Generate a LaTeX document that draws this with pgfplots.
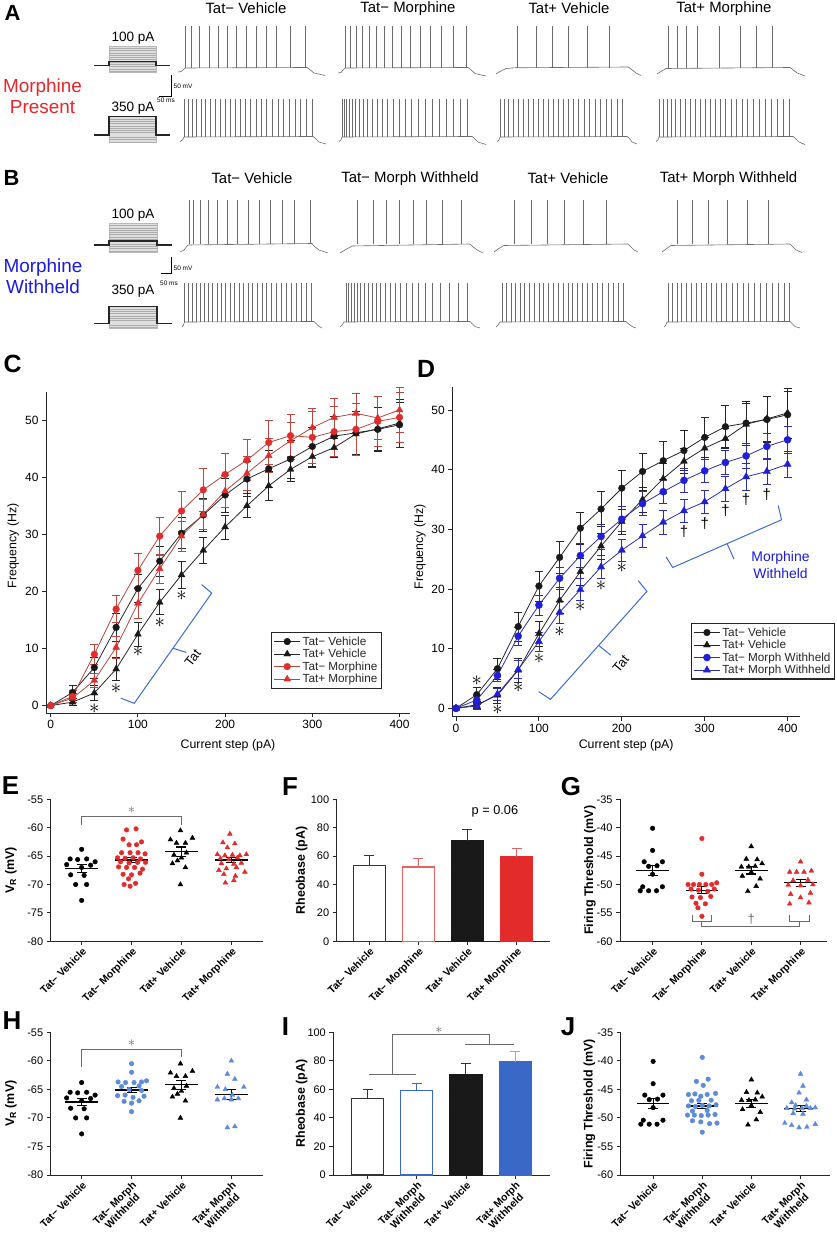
\documentclass[border=0pt]{standalone}
\usepackage{pgfplots}
\pgfplotsset{compat=1.18}
\usepackage{pgfplotstable}
\usepackage{fontspec}
\setmainfont{Liberation Sans}

\definecolor{tr}{HTML}{6A6A6A}
\definecolor{myred}{HTML}{E32B2B}
\definecolor{redln}{HTML}{B8473F}
\definecolor{lred}{HTML}{E06262}
\definecolor{myblue}{HTML}{1E1EDC}
\definecolor{blueln}{HTML}{2E2EA8}
\definecolor{brk}{HTML}{3C6AD8}
\definecolor{ltblue}{HTML}{5B8BDB}
\definecolor{barblue}{HTML}{3A68C6}
\definecolor{pblue}{HTML}{8EA9E0}
\definecolor{txtred}{HTML}{E5262B}
\definecolor{txtblue}{HTML}{1A1AE0}
\definecolor{sig}{HTML}{6A6A6A}

\newcommand{\fs}[1]{\fontsize{#1}{#1}\selectfont}
\newcommand{\legtxt}[1]{{\fontsize{11.8}{11.8}\selectfont #1}}

% frequency vs current step, mean and SEM
\pgfplotstableread{
x   tmv  tmve tpv  tpve tmm  tmme tpm  tpme tmw  tmwe tpw  tpwe
0   0    0    0    0    0    0    0    0    0    0    0    0
25  2.3  1.3  0.6  0.6  1.6  1.0  1.3  0.8  1.4  0.8  0.4  0.5
50  6.65 1.8  2.2  1.3  9.0  1.8  4.4  1.2  5.5  1.0  2.4  1.0
75  13.7 2.4  6.4  2.0  16.9 2.4  10.2 2.0  12.1 1.5  6.5  1.5
100 20.5 2.5  12.5 2.1  23.7 2.9  17.9 2.6  17.3 1.7  11.2 1.6
125 25.3 2.6  18.1 2.2  29.7 3.3  24.0 2.5  21.8 1.9  16.1 1.8
150 30.2 2.7  22.9 2.3  34.1 3.5  29.7 2.6  25.6 2.0  19.9 1.8
175 33.4 2.9  27.2 2.2  37.8 3.7  33.5 2.7  28.8 2.1  23.7 1.9
200 36.9 3.0  31.3 2.1  40.5 3.7  37.6 2.8  31.7 2.1  26.5 1.9
225 39.7 3.1  35.0 2.1  43.0 3.6  40.7 2.9  34.3 2.0  28.9 2.0
250 41.5 3.2  38.5 2.5  46.1 3.8  43.8 3.0  36.3 2.0  31.2 2.0
275 43.2 3.3  41.4 2.1  47.3 3.7  46.4 3.2  38.2 2.0  33.1 2.0
300 45.4 3.4  43.6 1.8  47.0 4.6  48.7 3.3  39.8 2.0  34.6 2.0
325 47.2 3.5  45.2 1.7  48.0 4.4  50.5 3.4  41.2 2.0  36.8 2.1
350 47.8 3.7  47.6 3.5  48.4 4.6  51.2 3.5  42.3 2.1  38.8 2.2
375 48.4 3.8  48.5 3.8  49.8 4.4  50.4 3.7  43.9 2.1  39.7 2.2
400 49.2 4.0  49.5 4.2  50.5 4.3  51.8 3.9  45.0 2.2  40.9 2.2
}\freq

\pgfplotsset{
  prism/.style={scale only axis, axis x line*=bottom, axis y line*=left,
    tick align=outside, major tick length=4bp, enlargelimits=false, clip=false,
    axis line style={line width=0.9bp, black!85}, tick style={line width=0.9bp, black!85},
    /pgf/number format/assume math mode=true,
    tick label style={font=\fs{11}}, label style={font=\fs{12.4}}},
  cat/.style={prism, xtick={0,1,2,3},
    x tick label style={rotate=45, anchor=north east, align=center, font=\bfseries\fontsize{10.5}{11}\selectfont, inner sep=1bp},
    label style={font=\bfseries\fs{12.5}}},
  ser/.style n args={4}{draw=#1, line width=0.8bp, mark=#3, mark size=#4,
    mark options={solid, draw=#2, fill=#2, line width=0.3bp},
    error bars/.cd, y dir=both, y explicit,
    error bar style={line width=0.7bp, draw=#1},
    error mark options={rotate=90, line width=0.7bp, draw=#1, mark size=4bp}},
  spk/.style={draw=none, mark=none, forget plot, error bars/.cd, y dir=minus, y fixed=#1,
    error mark=none, error bar style={solid, line width=0.5bp, draw=tr}},
  base/.style={draw=tr, line width=0.6bp, mark=none, forget plot},
  boxl/.style={draw=none, mark=none, forget plot, error bars/.cd, x dir=plus, x fixed=#1,
    error mark=none, error bar style={solid, line width=0.5bp, draw=gray!65}},
  stepl/.style={draw=black!85, line width=1.3bp, mark=none, forget plot},
  boxf/.style={fill=gray!25, draw=gray!55, line width=0.5bp, mark=none, forget plot},
  meanl/.style={draw=black, line width=1.2bp, mark=none, unbounded coords=jump},
  semb/.style={draw=none, mark=none, error bars/.cd, y dir=both, y explicit,
    error bar style={solid, line width=1.1bp, draw=black}, error mark options={rotate=90, line width=1.1bp, draw=black, mark size=5bp}},
  barst/.style n args={3}{ybar, bar width=0.65, bar shift=0pt, fill=#1, draw=#2, line width=1.2bp,
    error bars/.cd, y dir=plus, y explicit, error bar style={line width=1bp, draw=#3},
    error mark options={rotate=90, line width=1bp, draw=#3, mark size=5bp}},
  legimg/.style={legend cell align=left,
    legend image code/.code={\draw[mark repeat=2,mark phase=2] plot coordinates {(0bp,0bp) (13bp,0bp) (26bp,0bp)};}},
}

\begin{document}
\begin{tikzpicture}
\useasboundingbox (0,0) rectangle (837bp,1238bp);

% ================= canvas: panels A and B, panel letters =================
\begin{axis}[at={(0,0)}, anchor=south west, scale only axis, width=837bp, height=1238bp,
  xmin=0, xmax=837, ymin=0, ymax=1238, y dir=reverse, hide axis, clip=false]

% stimulus icons
\addplot[boxf] coordinates {(109,46)(156,46)(156,72.7)(109,72.7)(109,46)};
\addplot[boxl=47] coordinates {(109,48.2)(109,50.5)(109,52.8)(109,55.1)(109,57.4)(109,59.7)(109,62)(109,64.3)(109,66.6)(109,68.9)(109,71.2)};
\addplot[stepl] coordinates {(94,65.7)(109,65.7)(109,61.3)(156,61.3)(156,65.7)(170,65.7)};
\addplot[boxf] coordinates {(109,116.7)(156,116.7)(156,142.7)(109,142.7)(109,116.7)};
\addplot[boxl=47] coordinates {(109,118.9)(109,121.2)(109,123.5)(109,125.8)(109,128.1)(109,130.4)(109,132.7)(109,137.3)(109,139.6)(109,141.9)};
\addplot[stepl] coordinates {(94,135)(109,135)(109,116.7)(156,116.7)(156,135)(170,135)};
\addplot[boxf] coordinates {(109,223.3)(157,223.3)(157,252.3)(109,252.3)(109,223.3)};
\addplot[boxl=48] coordinates {(109,225.5)(109,227.8)(109,230.1)(109,232.4)(109,234.7)(109,237)(109,239.3)(109,243.9)(109,246.2)(109,248.5)(109,250.8)};
\addplot[stepl] coordinates {(94,245)(109,245)(109,241)(157,241)(157,245)(172,245)};
\addplot[boxf] coordinates {(109,306.7)(157,306.7)(157,328.3)(109,328.3)(109,306.7)};
\addplot[boxl=48] coordinates {(109,308.9)(109,311.2)(109,313.5)(109,315.8)(109,318.1)(109,320.4)(109,325)(109,327.3)};
\addplot[stepl] coordinates {(94,323.3)(109,323.3)(109,306.7)(157,306.7)(157,323.3)(172,323.3)};

% A, 100 pA
\addplot[base] coordinates {(178,72)(181,71.6)(183.5,69.5)(185,68)(307,67.5)(309,69)(314,73)(325,75.5)};
\addplot[spk=42] coordinates {(185.7,68)(191.7,68)(199.3,68)(209,68)(218.3,68)(227.7,68)(236,68)(246.7,68)(256.7,68)(266.7,68)(276.7,68)(290,68)(305.7,68)};
\addplot[base] coordinates {(338,73)(341,72.5)(343.5,69.5)(345,68)(468,67.5)(470,69)(475,73.5)(486,76)};
\addplot[spk=42] coordinates {(345,68)(350,68)(356,68)(362,68)(369,68)(376,68)(384,68)(392,68)(401,68)(410,68)(420,68)(430,68)(441,68)(453,68)(466,68)};
\addplot[base] coordinates {(496,74)(500,71.5)(506,68.5)(515,67.8)(628,67)(631,69)(636,73)(641,75.5)};
\addplot[spk=42] coordinates {(517.7,68)(536.5,68)(552.6,68)(568.7,68)(587.4,68)(608.9,68)};
\addplot[base] coordinates {(657,74)(661,71.5)(666,68.5)(790,67.5)(792,69)(797,73)(805,76)};
\addplot[spk=42] coordinates {(668,68)(677,68)(686.7,68)(697.4,68)(718.9,68)(740.3,68)(756.4,68)(772.5,68)};

% A, 350 pA
\addplot[base] coordinates {(180,141.5)(182.5,140)(184,137)(313,136.5)(315,138)(319,142)(326,144)};
\addplot[spk=38] coordinates {(184.3,137)(188.3,137)(192.7,137)(196.7,137)(201,137)(205.7,137)(210.3,137)(215,137)(220,137)(225,137)(230,137)(235,137)(240,137)(245.3,137)(250.7,137)(256,137)(261.3,137)(266.7,137)(272.3,137)(278,137)(283.7,137)(289.3,137)(295,137)(300.7,137)(306.3,137)(312,137)};
\addplot[base] coordinates {(339,141.5)(341,140)(342,137)(472,136.5)(474,138)(478,142)(486,144.5)};
\addplot[spk=38] coordinates {(342,137)(344,137)(346.5,137)(349,137)(352,137)(355,137)(359,137)(363,137)(367,137)(372,137)(377,137)(382,137)(387,137)(393,137)(399,137)(405,137)(411,137)(418,137)(425,137)(432,137)(439,137)(446,137)(453,137)(460,137)(467,137)};
\addplot[base] coordinates {(497,141.5)(499,140)(500,137)(627,136.5)(629,138)(632,142)(637,144)};
\addplot[spk=38] coordinates {(500,137)(504,137)(508.5,137)(513,137)(518,137)(523,137)(528,137)(533,137)(538,137)(543,137)(548,137)(553,137)(558,137)(563,137)(568,137)(573,137)(578.5,137)(584,137)(589.5,137)(595,137)(600.5,137)(606,137)(611.5,137)(617,137)(622.5,137)};
\addplot[base] coordinates {(656,141.5)(658,140)(659,137)(793,136.5)(795,138)(799,142)(805,144.5)};
\addplot[spk=38] coordinates {(659,137)(663,137)(667,137)(671,137)(675,137)(680,137)(685,137)(690,137)(695,137)(700,137)(705,137)(710,137)(715,137)(720,137)(725.5,137)(731,137)(736.5,137)(742,137)(747.5,137)(753,137)(759,137)(765,137)(771,137)(777,137)(783,137)(789,137)};

% B, 100 pA
\addplot[base] coordinates {(180,252)(184,250)(188,245)(312,243.5)(314,246)(319,250)(328,253)};
\addplot[spk=44] coordinates {(189,244)(193,244)(200,244)(208.3,244)(217.7,244)(227.3,244)(237.3,244)(248.3,244)(259.3,244)(270.3,244)(282,244)(294.7,244)(310.7,244)};
\addplot[base] coordinates {(340,253)(345,250)(352,246)(470,244)(472,246)(477,250)(483,253)};
\addplot[spk=44] coordinates {(356.8,244)(372.9,244)(386.3,244)(399.7,244)(413.1,244)(426.5,244)(442.6,244)(461.4,244)};
\addplot[base] coordinates {(494,252)(498,249)(504,245.5)(628,244)(630,246)(634,250)(638,252)};
\addplot[spk=44] coordinates {(514,244)(531,244)(547,244)(564.4,244)(583.7,244)(606.2,244)};
\addplot[base] coordinates {(662,252)(666,249)(671,245.5)(790,244)(792,246)(796,250)(802,252.5)};
\addplot[spk=44] coordinates {(677,244)(692,244)(708,244)(727,244)(747.3,244)(768.2,244)};

% B, 350 pA
\addplot[base] coordinates {(182,327)(183.5,325)(184.5,322)(314,321.5)(316,323.5)(319,326.5)(322,328)};
\addplot[spk=39] coordinates {(184.5,322)(188.5,322)(192.5,322)(196.5,322)(200.5,322)(204.5,322)(208.5,322)(212.7,322)(217,322)(221.3,322)(225.7,322)(230,322)(234.5,322)(239,322)(243.5,322)(248,322)(252.7,322)(257.3,322)(262,322)(266.7,322)(271.5,322)(276.3,322)(281,322)(286,322)(291,322)(296,322)(301,322)(306,322)(311,322)};
\addplot[base] coordinates {(340,327)(342,325)(344,322)(470,321.5)(472,323.5)(475,326.5)(480,328)};
\addplot[spk=39] coordinates {(346,322)(348.5,322)(351,322)(354,322)(357,322)(360.5,322)(364,322)(368,322)(372,322)(376,322)(380.5,322)(385,322)(390,322)(395,322)(400.5,322)(406,322)(412,322)(418,322)(425,322)(432,322)(440,322)(449,322)(458,322)(467,322)};
\addplot[base] coordinates {(496,327)(498,325)(500,322)(626,321.5)(628,323.5)(632,326.5)(636,328)};
\addplot[spk=39] coordinates {(502,322)(506.5,322)(511,322)(515.5,322)(520,322)(524.7,322)(529.4,322)(534,322)(538.8,322)(543.6,322)(548.4,322)(553.2,322)(558,322)(562.9,322)(567.8,322)(572.7,322)(577.6,322)(582.6,322)(587.6,322)(592.6,322)(597.6,322)(602.7,322)(607.8,322)(612.9,322)(618,322)(623.2,322)};
\addplot[base] coordinates {(664,327)(666,325)(667,322)(790,321.5)(792,323.5)(795,326.5)(800,328)};
\addplot[spk=39] coordinates {(668,322)(672.5,322)(677,322)(681.7,322)(686.4,322)(691.2,322)(696,322)(701,322)(706,322)(711,322)(716.2,322)(721.4,322)(726.7,322)(732,322)(737.5,322)(743,322)(748.6,322)(754.3,322)(760,322)(766,322)(772,322)(778,322)(784,322)(789,322)};

% scale bars
\draw[line width=1.2bp, black] (axis cs:171.7,75) -- (axis cs:171.7,96.7) -- (axis cs:159.3,96.7);
\node[anchor=west, font=\fs{6.5}, inner sep=0] at (axis cs:173.5,86) {50 mV};
\node[anchor=west, font=\fs{6.5}, inner sep=0] at (axis cs:157,100.5) {50 ms};
\draw[line width=1.2bp, black] (axis cs:171.7,256.7) -- (axis cs:171.7,273.3) -- (axis cs:161,273.3);
\node[anchor=west, font=\fs{6.5}, inner sep=0] at (axis cs:173.5,268.5) {50 mV};
\node[anchor=west, font=\fs{6.5}, inner sep=0] at (axis cs:160,283.3) {50 ms};

% texts
\node[font=\fs{13.6}] at (axis cs:133,38.5) {100 pA};
\node[font=\fs{13.6}] at (axis cs:133,108.3) {350 pA};
\node[font=\fs{13.6}] at (axis cs:133,215) {100 pA};
\node[font=\fs{13.6}] at (axis cs:133,291) {350 pA};
\node[font=\fontsize{19}{21}\selectfont, text=txtred, align=center] at (axis cs:42.5,96) {Morphine\\Present};
\node[font=\fontsize{19}{21}\selectfont, text=txtblue, align=center] at (axis cs:43,276) {Morphine\\Withheld};
\node[font=\fs{15}] at (axis cs:246,8.5) {Tat− Vehicle};
\node[font=\fs{15}] at (axis cs:408,8.5) {Tat− Morphine};
\node[font=\fs{15}] at (axis cs:569,8.5) {Tat+ Vehicle};
\node[font=\fs{15}] at (axis cs:724,8.5) {Tat+ Morphine};
\node[font=\fs{15}] at (axis cs:252,178.3) {Tat− Vehicle};
\node[font=\fs{15}] at (axis cs:410,178.3) {Tat− Morph Withheld};
\node[font=\fs{15}] at (axis cs:568,178.3) {Tat+ Vehicle};
\node[font=\fs{15}] at (axis cs:728.5,178.3) {Tat+ Morph Withheld};

% panel letters
\node[font=\bfseries\fs{22}] at (axis cs:12.5,12.5) {A};
\node[font=\bfseries\fs{22}] at (axis cs:11.5,177.5) {B};
\node[font=\bfseries\fs{25}] at (axis cs:12.5,364) {C};
\node[font=\bfseries\fs{25}] at (axis cs:426,368.5) {D};
\node[font=\bfseries\fs{26}] at (axis cs:10.5,786) {E};
\node[font=\bfseries\fs{26}] at (axis cs:290,786.5) {F};
\node[font=\bfseries\fs{26}] at (axis cs:571,787) {G};
\node[font=\bfseries\fs{26}] at (axis cs:12,1021) {H};
\node[font=\bfseries\fs{26}] at (axis cs:285.5,1027) {I};
\node[font=\bfseries\fs{26}] at (axis cs:568,1027) {J};
\end{axis}

% ================= C =================
\begin{axis}[prism, legimg, at={(46bp,525bp)}, width=364bp, height=321.3bp,
  xmin=-5.4, xmax=412, ymin=-1.3, ymax=55, xtick={0,100,...,400}, ytick={0,10,...,50},
  tick label style={font=\fs{12}},
  xlabel={Current step (pA)}, ylabel={Frequency (Hz)},
  xlabel style={at={(axis description cs:0.5,-0.0996)}, anchor=center},
  ylabel style={at={(axis description cs:-0.09,0.52)}, anchor=center},
  legend style={at={(0.923,0.252)}, anchor=north east, draw=black!85, line width=1.1bp,
    inner xsep=2bp, inner ysep=2bp, row sep=-1.5bp, text=black!85}]
\addplot[ser={black!85}{black!90}{*}{3.4bp}] table[x=x, y=tmv, y error=tmve] {\freq};
\addlegendentry{\legtxt{Tat− Vehicle}}
\addplot[ser={black!85}{black!90}{triangle*}{4bp}] table[x=x, y=tpv, y error=tpve] {\freq};
\addlegendentry{\legtxt{Tat+ Vehicle}}
\addplot[ser={redln}{myred}{*}{3.4bp}] table[x=x, y=tmm, y error=tmme] {\freq};
\addlegendentry{\legtxt{Tat− Morphine}}
\addplot[ser={redln}{myred}{triangle*}{4bp}] table[x=x, y=tpm, y error=tpme] {\freq};
\addlegendentry{\legtxt{Tat+ Morphine}}
\draw[brk, line width=1bp] (axis cs:80.3,1.3) -- (axis cs:95.8,0.4) -- (axis cs:184.6,19.7) -- (axis cs:173,21.2);
\draw[brk, line width=1bp] (axis cs:140.2,10.05) -- (axis cs:155.6,9.3);
\node[rotate=52, font=\fs{13}] at (axis cs:163,8.3) {Tat};
\node[font=\fs{20}, inner sep=0] at (axis cs:50,-0.5) {$\ast$};
\node[font=\fs{20}, inner sep=0] at (axis cs:75,3.0) {$\ast$};
\node[font=\fs{20}, inner sep=0] at (axis cs:100,9.4) {$\ast$};
\node[font=\fs{20}, inner sep=0] at (axis cs:125,14.5) {$\ast$};
\node[font=\fs{20}, inner sep=0] at (axis cs:150,19.3) {$\ast$};
\end{axis}

% ================= D =================
\begin{axis}[prism, legimg, at={(452.3bp,521.3bp)}, width=347.7bp, height=330bp,
  xmin=-4.5, xmax=415, ymin=-1.4, ymax=53.9, xtick={0,100,...,400}, ytick={0,10,...,50},
  tick label style={font=\fs{12}},
  xlabel={Current step (pA)}, ylabel={Frequency (Hz)},
  xlabel style={at={(axis description cs:0.5,-0.0858)}, anchor=center},
  ylabel style={at={(axis description cs:-0.093,0.515)}, anchor=center},
  legend style={at={(1.1007,0.284)}, anchor=north east, draw=black!85, line width=1.1bp,
    inner xsep=2bp, inner ysep=2bp, row sep=-1.5bp, text=black!85}]
\addplot[ser={black!85}{black!90}{*}{3.4bp}] table[x=x, y=tmv, y error=tmve] {\freq};
\addlegendentry{\legtxt{Tat− Vehicle}}
\addplot[ser={black!85}{black!90}{triangle*}{4bp}] table[x=x, y=tpv, y error=tpve] {\freq};
\addlegendentry{\legtxt{Tat+ Vehicle}}
\addplot[ser={blueln}{myblue}{*}{3.6bp}] table[x=x, y=tmw, y error=tmwe] {\freq};
\addlegendentry{\legtxt{Tat− Morph Withheld}}
\addplot[ser={blueln}{myblue}{triangle*}{4.2bp}] table[x=x, y=tpw, y error=tpwe] {\freq};
\addlegendentry{\legtxt{Tat+ Morph Withheld}}
\draw[brk, line width=1bp] (axis cs:99.8,2.8) -- (axis cs:113.9,1.5) -- (axis cs:230.3,19.6) -- (axis cs:219.8,21.4);
\draw[brk, line width=1bp] (axis cs:172.1,10.55) -- (axis cs:186.7,8.9);
\node[rotate=50, font=\fs{13}] at (axis cs:198.8,7.5) {Tat};
\draw[brk, line width=1bp] (axis cs:253.3,25.4) -- (axis cs:261.4,23.6) -- (axis cs:392.7,31.6) -- (axis cs:388.7,34.0);
\draw[brk, line width=1bp] (axis cs:327.05,27.6) -- (axis cs:335.4,25.0);
\node[align=center, text=txtblue, font=\fontsize{14}{17}\selectfont] at (axis cs:391.5,24.05) {Morphine\\Withheld};
\node[font=\fs{20}, inner sep=0] at (axis cs:25,4.7) {$\ast$};
\node[font=\fs{20}, inner sep=0] at (axis cs:50,-0.3) {$\ast$};
\node[font=\fs{20}, inner sep=0] at (axis cs:75,3.4) {$\ast$};
\node[font=\fs{20}, inner sep=0] at (axis cs:100,8.4) {$\ast$};
\node[font=\fs{20}, inner sep=0] at (axis cs:125,12.8) {$\ast$};
\node[font=\fs{20}, inner sep=0] at (axis cs:150,17.0) {$\ast$};
\node[font=\fs{20}, inner sep=0] at (axis cs:175,20.5) {$\ast$};
\node[font=\fs{20}, inner sep=0] at (axis cs:200,23.5) {$\ast$};
\node[font=\fs{15}, inner sep=0] at (axis cs:275,29.6) {†};
\node[font=\fs{15}, inner sep=0] at (axis cs:300,31.0) {†};
\node[font=\fs{15}, inner sep=0] at (axis cs:325,33.2) {†};
\node[font=\fs{15}, inner sep=0] at (axis cs:350,35.0) {†};
\node[font=\fs{15}, inner sep=0] at (axis cs:375,35.9) {†};
\end{axis}

% ================= E =================
\begin{axis}[cat, at={(50.7bp,296.7bp)}, width=212.6bp, height=142bp,
  xmin=-0.62, xmax=3.64, ymin=-80, ymax=-55, ytick={-80,-75,...,-55},
  xticklabels={Tat− Vehicle, Tat− Morphine, Tat+ Vehicle, Tat+ Morphine},
  ylabel={V\textsubscript{R} (mV)}, ylabel style={at={(axis description cs:-0.187,0.5)}, anchor=center}]
\addplot[only marks, mark=*, mark size=2.3bp, black] coordinates {(0.00,-63.8)(-0.23,-65.5)(-0.08,-65.6)(0.10,-65.5)(0.27,-66.0)(-0.30,-66.5)(0.18,-66.6)(0.00,-67.0)(-0.22,-68.3)(0.05,-68.4)(-0.12,-70.0)(0.10,-70.0)(0.00,-72.8)};
\addplot[only marks, mark=*, mark size=2.3bp, myred] coordinates {(0.90,-60.4)(1.09,-60.2)(0.83,-62.0)(1.20,-62.5)(0.95,-63.0)(1.10,-63.0)(0.80,-64.4)(0.97,-64.4)(1.13,-64.4)(1.27,-64.6)(0.72,-65.3)(0.87,-65.4)(1.03,-65.3)(1.18,-65.5)(0.78,-66.0)(0.95,-66.2)(1.12,-66.1)(1.28,-66.1)(0.74,-66.9)(0.90,-67.0)(1.06,-67.0)(1.22,-67.3)(0.83,-68.2)(1.00,-68.3)(1.17,-68.0)(0.94,-69.0)(0.85,-70.0)(1.08,-69.8)(0.97,-70.3)};
\addplot[only marks, mark=triangle*, mark size=2.8bp, black] coordinates {(1.98,-60.5)(1.78,-62.1)(2.22,-61.8)(1.90,-62.7)(2.08,-62.7)(2.10,-64.4)(1.85,-64.8)(2.00,-65.3)(1.82,-66.3)(2.08,-67.0)(1.98,-70.0)(1.92,-65.8)};
\addplot[only marks, mark=triangle*, mark size=2.8bp, myred] coordinates {(2.97,-61.1)(2.83,-62.6)(3.07,-62.8)(2.92,-63.5)(2.72,-64.7)(2.87,-64.9)(3.02,-64.8)(3.17,-64.9)(3.30,-64.7)(2.78,-65.4)(3.12,-65.3)(2.95,-65.6)(2.80,-66.3)(3.05,-66.4)(3.20,-66.2)(2.90,-67.2)(3.10,-67.0)(2.75,-67.5)(3.27,-67.8)(2.85,-68.2)(3.08,-68.5)(2.88,-69.7)(3.05,-69.3)};
\addplot[meanl] coordinates {(-0.33,-67.2)(0.33,-67.2)(0.5,nan)(0.67,-65.7)(1.33,-65.7)(1.5,nan)(1.67,-64.2)(2.33,-64.2)(2.5,nan)(2.67,-65.7)(3.33,-65.7)};
\addplot[semb] coordinates {(0,-67.2) +- (0,0.65) (1,-65.7) +- (0,0.5) (2,-64.2) +- (0,0.8) (3,-65.7) +- (0,0.45)};
\draw[sig, line width=1bp] (axis cs:0,-59.5) -- (axis cs:0,-58.05) -- (axis cs:2,-58.05) -- (axis cs:2,-59.5);
\node[text=sig, font=\fs{15}, inner sep=0] at (axis cs:1,-56.9) {$\ast$};
\end{axis}

% ================= F =================
\begin{axis}[cat, at={(336.7bp,296.7bp)}, width=213.3bp, height=142bp,
  xmin=-0.66, xmax=3.68, ymin=0, ymax=100, ytick={0,20,...,100},
  xticklabels={Tat− Vehicle, Tat− Morphine, Tat+ Vehicle, Tat+ Morphine},
  ylabel={Rheobase (pA)}, ylabel style={at={(axis description cs:-0.164,0.5)}, anchor=center}]
\addplot[barst={white}{black!80}{black!80}] coordinates {(0,53.5) +- (0,6.6)};
\addplot[barst={white}{lred}{lred}] coordinates {(1,52.3) +- (0,5.9)};
\addplot[barst={black!90}{black!90}{black!80}] coordinates {(2,70.7) +- (0,7.7)};
\addplot[barst={myred}{myred}{lred}] coordinates {(3,59.6) +- (0,6.1)};
\node[font=\fs{12.8}] at (axis cs:2.56,91.3) {p = 0.06};
\end{axis}

% ================= G =================
\begin{axis}[cat, at={(620bp,296.7bp)}, width=206.7bp, height=142bp,
  xmin=-0.66, xmax=3.53, ymin=-60, ymax=-35, ytick={-60,-55,...,-35},
  xticklabels={Tat− Vehicle, Tat− Morphine, Tat+ Vehicle, Tat+ Morphine},
  ylabel={Firing Threshold (mV)}, ylabel style={at={(axis description cs:-0.145,0.5)}, anchor=center}]
\addplot[only marks, mark=*, mark size=2.3bp, black] coordinates {(0,-40.1)(0,-44.0)(-0.17,-46.0)(0.20,-46.0)(-0.08,-46.8)(0.09,-46.7)(0.0,-48.2)(-0.2,-50.4)(0.2,-50.4)(-0.25,-51.1)(-0.08,-51.1)(0.08,-51.1)};
\addplot[only marks, mark=*, mark size=2.3bp, myred] coordinates {(1.00,-41.9)(1.00,-48.2)(0.72,-50.0)(0.83,-50.0)(0.95,-50.0)(1.08,-50.0)(1.20,-50.0)(1.30,-49.7)(0.78,-50.8)(0.93,-51.0)(1.12,-51.2)(1.25,-50.8)(0.80,-52.2)(0.97,-52.3)(1.18,-52.1)(0.88,-53.3)(1.07,-53.4)(0.92,-54.1)(1.00,-55.6)};
\addplot[only marks, mark=triangle*, mark size=2.8bp, black] coordinates {(2.00,-43.3)(1.90,-45.5)(2.12,-45.6)(2.22,-46.3)(1.80,-46.9)(1.95,-46.9)(2.08,-46.8)(2.00,-47.8)(1.82,-48.5)(2.18,-49.0)(2.10,-50.3)(1.93,-51.2)};
\addplot[only marks, mark=triangle*, mark size=2.8bp, myred] coordinates {(3.00,-46.0)(2.78,-47.8)(2.92,-47.8)(3.07,-47.8)(3.22,-47.6)(2.85,-49.3)(3.15,-49.2)(2.75,-50.1)(3.00,-50.2)(3.25,-50.0)(2.80,-51.7)(3.20,-51.5)(3.00,-52.3)(2.78,-53.4)(3.17,-53.2)};
\addplot[meanl] coordinates {(-0.33,-47.5)(0.33,-47.5)(0.5,nan)(0.67,-51.0)(1.33,-51.0)(1.5,nan)(1.67,-47.5)(2.33,-47.5)(2.5,nan)(2.67,-49.7)(3.33,-49.7)};
\addplot[semb] coordinates {(0,-47.5) +- (0,0.85) (1,-51.0) +- (0,0.65) (2,-47.5) +- (0,0.65) (3,-49.7) +- (0,0.6)};
\draw[sig, line width=1bp] (axis cs:0.8,-55.4) -- (axis cs:0.8,-56.5) -- (axis cs:1.2,-56.5) -- (axis cs:1.2,-55.4);
\draw[sig, line width=1bp] (axis cs:1,-56.5) -- (axis cs:1,-57.4) -- (axis cs:2.98,-57.4) -- (axis cs:2.98,-56.5);
\draw[sig, line width=1bp] (axis cs:2.78,-55.4) -- (axis cs:2.78,-56.5) -- (axis cs:3.18,-56.5) -- (axis cs:3.18,-55.4);
\node[text=sig, font=\fs{13}, inner sep=0] at (axis cs:2,-56.2) {†};
\end{axis}

% ================= H =================
\begin{axis}[cat, at={(50.7bp,63bp)}, width=212.6bp, height=142.7bp,
  xmin=-0.62, xmax=3.64, ymin=-80, ymax=-55, ytick={-80,-75,...,-55},
  xticklabels={Tat− Vehicle, {Tat− Morph\\Withheld}, Tat+ Vehicle, {Tat+ Morph\\Withheld}},
  ylabel={V\textsubscript{R} (mV)}, ylabel style={at={(axis description cs:-0.187,0.5)}, anchor=center}]
\addplot[only marks, mark=*, mark size=2.3bp, black] coordinates {(0.00,-63.8)(-0.23,-65.5)(-0.08,-65.6)(0.10,-65.5)(0.27,-66.0)(-0.30,-66.5)(0.18,-66.6)(0.00,-67.0)(-0.22,-68.3)(0.05,-68.4)(-0.12,-70.0)(0.10,-70.0)(0.00,-72.8)};
\addplot[only marks, mark=*, mark size=2.3bp, ltblue] coordinates {(1.00,-60.5)(1.00,-62.0)(0.73,-63.7)(0.88,-63.8)(1.05,-63.8)(1.20,-63.7)(1.30,-63.5)(0.80,-64.5)(1.15,-64.4)(0.95,-65.0)(1.20,-65.2)(0.72,-66.1)(0.87,-66.0)(1.03,-66.4)(1.25,-66.2)(0.85,-67.1)(1.00,-67.4)(1.15,-67.0)(1.00,-68.9)};
\addplot[only marks, mark=triangle*, mark size=2.8bp, black] coordinates {(1.98,-60.5)(1.78,-62.1)(2.22,-61.8)(1.90,-62.7)(2.08,-62.7)(2.10,-64.4)(1.85,-64.8)(2.00,-65.3)(1.82,-66.3)(2.08,-67.0)(1.98,-70.0)(1.92,-65.8)};
\addplot[only marks, mark=triangle*, mark size=2.8bp, ltblue] coordinates {(3.00,-60.0)(2.92,-62.3)(3.07,-63.2)(2.72,-64.6)(2.88,-65.0)(3.25,-64.6)(3.02,-66.0)(2.72,-66.8)(2.86,-66.6)(3.00,-66.8)(3.14,-66.6)(2.92,-71.7)(3.07,-71.5)};
\addplot[meanl] coordinates {(-0.33,-67.2)(0.33,-67.2)(0.5,nan)(0.67,-65.1)(1.33,-65.1)(1.5,nan)(1.67,-64.2)(2.33,-64.2)(2.5,nan)(2.67,-65.9)(3.33,-65.9)};
\addplot[semb] coordinates {(0,-67.2) +- (0,0.65) (1,-65.1) +- (0,0.45) (2,-64.2) +- (0,0.8) (3,-65.9) +- (0,0.9)};
\draw[sig, line width=1bp] (axis cs:0,-61.0) -- (axis cs:0,-58.0) -- (axis cs:2,-58.0) -- (axis cs:2,-59.4);
\node[text=sig, font=\fs{15}, inner sep=0] at (axis cs:1,-56.9) {$\ast$};
\end{axis}

% ================= I =================
\begin{axis}[cat, at={(333.3bp,63bp)}, width=216.7bp, height=142.7bp,
  xmin=-0.70, xmax=3.71, ymin=0, ymax=100, ytick={0,20,...,100},
  xticklabels={Tat− Vehicle, {Tat− Morph\\Withheld}, Tat+ Vehicle, {Tat+ Morph\\Withheld}},
  ylabel={Rheobase (pA)}, ylabel style={at={(axis description cs:-0.146,0.5)}, anchor=center}]
\addplot[barst={white}{black!80}{black!80}] coordinates {(0,53.5) +- (0,6.6)};
\addplot[barst={white}{barblue}{barblue}] coordinates {(1,59.1) +- (0,4.9)};
\addplot[barst={black!90}{black!90}{black!80}] coordinates {(2,70.7) +- (0,7.7)};
\addplot[barst={barblue}{barblue}{pblue}] coordinates {(3,79.4) +- (0,7.0)};
\draw[sig, line width=1bp] (axis cs:0.03,70.3) -- (axis cs:0.98,70.3);
\draw[sig, line width=1bp] (axis cs:0.51,70.3) -- (axis cs:0.51,98.6) -- (axis cs:2.48,98.6) -- (axis cs:2.48,91.1);
\draw[sig, line width=1bp] (axis cs:1.99,91.1) -- (axis cs:2.97,91.1);
\node[text=sig, font=\fs{15}, inner sep=0] at (axis cs:1.45,101.6) {$\ast$};
\end{axis}

% ================= J =================
\begin{axis}[cat, at={(620.7bp,63bp)}, width=209.3bp, height=142.7bp,
  xmin=-0.66, xmax=3.6, ymin=-60, ymax=-35, ytick={-60,-55,...,-35},
  xticklabels={Tat− Vehicle, {Tat− Morph\\Withheld}, Tat+ Vehicle, {Tat+ Morph\\Withheld}},
  ylabel={Firing Threshold (mV)}, ylabel style={at={(axis description cs:-0.15,0.5)}, anchor=center}]
\addplot[only marks, mark=*, mark size=2.3bp, black] coordinates {(0,-40.1)(0,-44.0)(-0.17,-46.0)(0.20,-46.0)(-0.08,-46.8)(0.09,-46.7)(0.0,-48.2)(-0.2,-50.4)(0.2,-50.4)(-0.25,-51.1)(-0.08,-51.1)(0.08,-51.1)};
\addplot[only marks, mark=*, mark size=2.3bp, ltblue] coordinates {(1.00,-39.4)(1.12,-43.2)(0.88,-43.6)(1.02,-44.3)(0.72,-45.9)(0.85,-45.8)(0.97,-46.2)(1.10,-45.9)(1.27,-45.7)(0.78,-47.0)(0.93,-46.9)(1.18,-46.9)(0.72,-47.9)(0.86,-48.0)(1.00,-47.8)(1.14,-47.9)(1.28,-47.7)(0.80,-48.8)(1.10,-48.7)(0.70,-49.5)(0.84,-49.5)(0.98,-49.6)(1.12,-49.5)(1.26,-49.4)(0.80,-50.5)(0.97,-50.7)(1.15,-51.0)(1.30,-50.9)(1.00,-52.5)};
\addplot[only marks, mark=triangle*, mark size=2.8bp, black] coordinates {(2.00,-43.3)(1.90,-45.5)(2.12,-45.6)(2.22,-46.3)(1.80,-46.9)(1.95,-46.9)(2.08,-46.8)(2.00,-47.8)(1.82,-48.5)(2.18,-49.0)(2.10,-50.3)(1.93,-51.2)};
\addplot[only marks, mark=triangle*, mark size=2.8bp, ltblue] coordinates {(3.00,-42.3)(3.05,-44.4)(2.97,-45.6)(3.12,-46.8)(2.82,-47.3)(2.90,-47.8)(3.12,-47.9)(2.72,-48.3)(2.88,-48.4)(3.03,-48.3)(3.20,-48.3)(3.30,-48.2)(2.85,-49.2)(3.05,-49.3)(2.68,-50.9)(2.82,-51.3)(3.30,-51.1)(2.97,-51.7)(3.13,-51.6)};
\addplot[meanl] coordinates {(-0.33,-47.5)(0.33,-47.5)(0.5,nan)(0.67,-47.9)(1.33,-47.9)(1.5,nan)(1.67,-47.5)(2.33,-47.5)(2.5,nan)(2.67,-48.3)(3.33,-48.3)};
\addplot[semb] coordinates {(0,-47.5) +- (0,0.85) (1,-47.9) +- (0,0.45) (2,-47.5) +- (0,0.65) (3,-48.3) +- (0,0.5)};
\end{axis}
\end{tikzpicture}
\end{document}
